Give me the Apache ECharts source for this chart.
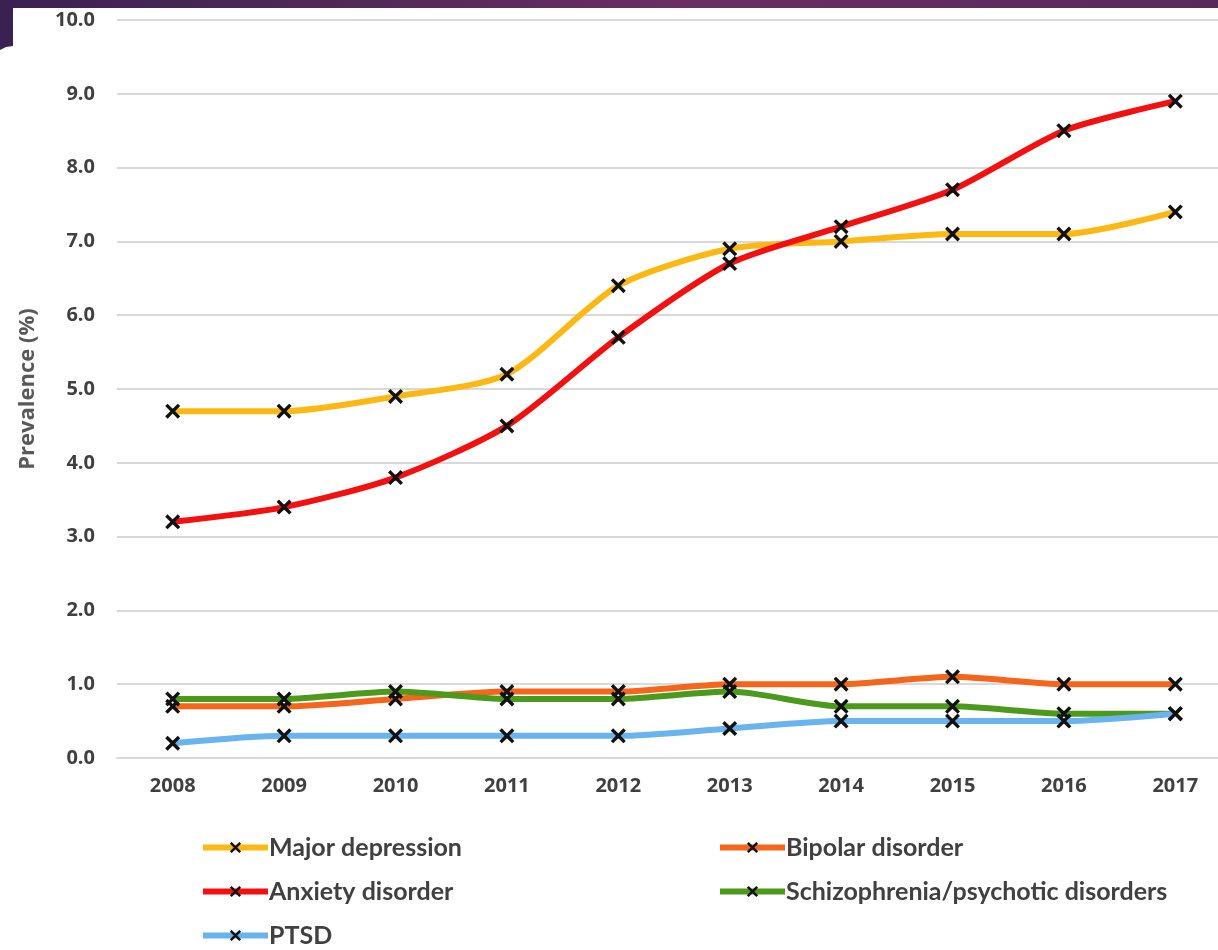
<!DOCTYPE html>
<html>
<head>
<meta charset="utf-8">
<script src="https://cdn.jsdelivr.net/npm/echarts@6/dist/echarts.min.js"></script>
<style>
html,body{margin:0;padding:0;background:#fff;overflow:hidden;width:1218px;height:950px;}
#chart{width:1231px;height:950px;}
</style>
</head>
<body>
<div id="chart"></div>
<script>
var years = ['2008','2009','2010','2011','2012','2013','2014','2015','2016','2017'];
var majorDepression = [4.7, 4.7, 4.9, 5.2, 6.4, 6.9, 7.0, 7.1, 7.1, 7.4];
var bipolarDisorder = [0.7, 0.7, 0.8, 0.9, 0.9, 1.0, 1.0, 1.1, 1.0, 1.0];
var anxietyDisorder = [3.2, 3.4, 3.8, 4.5, 5.7, 6.7, 7.2, 7.7, 8.5, 8.9];
var schizophrenia = [0.8, 0.8, 0.9, 0.8, 0.8, 0.9, 0.7, 0.7, 0.6, 0.6];
var ptsd = [0.2, 0.3, 0.3, 0.3, 0.3, 0.4, 0.5, 0.5, 0.5, 0.6];
var seriesNames = ['Major depression','Bipolar disorder','Anxiety disorder','Schizophrenia/psychotic disorders','PTSD'];
var seriesColors = ['#FDB813','#F5651C','#F51010','#4C9A1C','#69B3EE'];
var seriesData = [majorDepression, bipolarDisorder, anxietyDisorder, schizophrenia, ptsd];

var xSymbol = 'path://M0,1.6L1.6,0L5,3.4L8.4,0L10,1.6L6.6,5L10,8.4L8.4,10L5,6.6L1.6,10L0,8.4L3.4,5Z';
var AXFONT = 'Open Sans';
var LGFONT = 'Lato';
var TXT = '#404040';

var chart = echarts.init(document.getElementById('chart'));
var series = seriesNames.map(function(n, i){
  return {
    name: n, type: 'line', data: seriesData[i], smooth: 0.25,
    symbol: xSymbol, symbolSize: 15,
    itemStyle: {color: '#111'},
    lineStyle: {color: seriesColors[i], width: 6},
    z: 2 + i
  };
});

var legendPos = [
  ['Major depression', 195, 830],
  ['Bipolar disorder', 712, 830],
  ['Anxiety disorder', 195, 874],
  ['Schizophrenia/psychotic disorders', 712, 874],
  ['PTSD', 195, 918]
];
var legends = legendPos.map(function(p){
  return {
    left: p[1], top: p[2], data: [p[0]],
    itemWidth: 65, itemHeight: 14, itemGap: 0,
    lineStyle: {width: 6},
    textStyle: {fontFamily: LGFONT, fontSize: 25, color: TXT, fontWeight: 'bold', padding: [0,0,0,-4]}
  };
});

chart.setOption({
  animation: false,
  backgroundColor: '#fff',
  graphic: [
    {type: 'rect', left: 0, top: 0, shape: {width: 1231, height: 8},
     style: {fill: new echarts.graphic.LinearGradient(0,0,1,0,[{offset:0,color:'#3A2152'},{offset:0.55,color:'#6A2E63'},{offset:1,color:'#58295C'}])}},
    {type: 'polygon', shape: {points: [[0,0],[13,0],[13,46],[6,47],[0,50]]}, style: {fill: '#3A2152'}}
  ],
  grid: {left: 117, right: 0, top: 20, bottom: 192, containLabel: false},
  xAxis: {
    type: 'category', data: years, boundaryGap: true,
    axisLine: {lineStyle: {color: '#D9D9D9', width: 2}},
    axisTick: {show: false},
    axisLabel: {fontFamily: AXFONT, fontSize: 20, fontWeight: 'bold', color: TXT, margin: 18}
  },
  yAxis: {
    type: 'value', min: 0, max: 10, interval: 1,
    name: 'Prevalence (%)', nameLocation: 'middle', nameGap: 78, nameRotate: 90,
    nameTextStyle: {fontFamily: AXFONT, fontSize: 22, fontWeight: 'bold', color: '#595959'},
    axisLine: {show: false}, axisTick: {show: false},
    axisLabel: {fontFamily: AXFONT, fontSize: 20, fontWeight: 'bold', color: TXT, margin: 22,
      formatter: function(v){ return v.toFixed(1); }},
    splitLine: {lineStyle: {color: '#D9D9D9', width: 2}}
  },
  legend: legends,
  series: series
});
</script>
</body>
</html>
